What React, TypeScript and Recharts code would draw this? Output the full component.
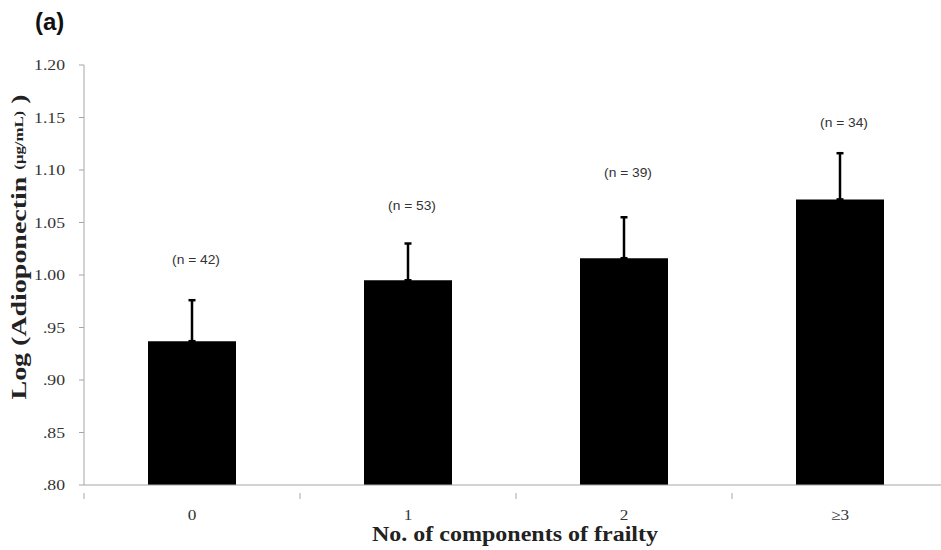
import React from "react";
import { ComposedChart, Bar, Line, XAxis, YAxis, ErrorBar, LabelList } from "recharts";

const categories = ["0", "1", "2", "≥3"];
const meanValues = [0.937, 0.995, 1.016, 1.072];
const upperValues = [0.976, 1.03, 1.055, 1.116];
const nLabels = ["(n = 42)", "(n = 53)", "(n = 39)", "(n = 34)"];
const nLabelLevels = [1.014, 1.066, 1.097, 1.145];
const yTicks = [0.8, 0.85, 0.9, 0.95, 1.0, 1.05, 1.1, 1.15, 1.2];

const data = categories.map((c, i) => ({
  cat: c,
  mean: meanValues[i],
  err: [0, +(upperValues[i] - meanValues[i]).toFixed(3)],
  labelPos: nLabelLevels[i],
  nText: nLabels[i],
}));

const SERIF = "'Liberation Serif', 'Times New Roman', serif";
const SANS = "'Liberation Sans', Arial, sans-serif";
const AXIS = "#a6a6a6";

const fmtY = (v: number) => {
  const s = v.toFixed(2);
  return v < 1 ? s.slice(1) : s;
};

const XTick = (props: any) => {
  const { x, y, payload, width, visibleTicksCount, index } = props;
  const band = width && visibleTicksCount ? width / visibleTicksCount : (payload?.offset || 0) * 2;
  const left = x - band / 2;
  const right = x + band / 2;
  return (
    <g>
      <line x1={left} y1={y} x2={left} y2={y + 6} stroke={AXIS} strokeWidth={1} />
      {index === visibleTicksCount - 1 && (
        <line x1={right} y1={y} x2={right} y2={y + 6} stroke={AXIS} strokeWidth={1} />
      )}
      <text
        transform={`translate(${x},${y + 27}) scale(1.15,1)`}
        textAnchor="middle"
        fontFamily={SERIF}
        fontSize={15}
        fill="#333"
      >
        {payload.value}
      </text>
    </g>
  );
};

const YTick = (props: any) => {
  const { x, y, payload } = props;
  return (
    <text
      transform={`translate(${x - 2},${y + 5}) scale(1.18,1)`}
      textAnchor="end"
      fontFamily={SERIF}
      fontSize={15}
      fill="#333"
    >
      {fmtY(payload.value)}
    </text>
  );
};

const YLabel = (props: any) => {
  const vb = props.viewBox || {};
  const cx = 19;
  const cy = vb.y + vb.height / 2 - 28;
  return (
    <text
      x={cx}
      y={cy}
      transform={`rotate(-90, ${cx}, ${cy})`}
      textAnchor="middle"
      dominantBaseline="central"
      fontFamily={SERIF}
      fontWeight="bold"
      fontSize={20}
      fill="#222"
      textLength={305}
      lengthAdjust="spacingAndGlyphs"
    >
      Log (Adioponectin <tspan fontSize={12}>(μg/mL)</tspan> )
    </text>
  );
};

const XLabel = (props: any) => {
  const vb = props.viewBox || {};
  const cx = vb.x + vb.width / 2 - 1;
  return (
    <text
      x={cx}
      y={541}
      textAnchor="middle"
      fontFamily={SERIF}
      fontWeight="bold"
      fontSize={22}
      fill="#222"
      textLength={286}
      lengthAdjust="spacingAndGlyphs"
    >
      No. of components of frailty
    </text>
  );
};

const NLabel = (props: any) => {
  const { x, y, value } = props;
  return (
    <text
      transform={`translate(${x + 4},${y + 4}) scale(1.15,1)`}
      textAnchor="middle"
      fontFamily={SANS}
      fontSize={12}
      fill="#333"
    >
      {value}
    </text>
  );
};

export default function App() {
  return (
    <div style={{ position: "absolute", left: 0, top: 0, width: 941, height: 550, overflow: "hidden", background: "#fff" }}>
      <div
        style={{
          position: "absolute",
          left: 35,
          top: 8,
          fontFamily: SANS,
          fontWeight: "bold",
          fontSize: 24,
          lineHeight: "28px",
          color: "#111",
        }}
      >
        (a)
      </div>
      <ComposedChart
        width={950}
        height={550}
        data={data}
        margin={{ top: 65, right: 2, bottom: 35, left: 0 }}
        barCategoryGap={0}
      >
        <XAxis
          dataKey="cat"
          type="category"
          height={30}
          axisLine={{ stroke: AXIS, strokeWidth: 1 }}
          tickLine={false}
          tick={<XTick />}
          interval={0}
          label={<XLabel />}
        />
        <YAxis
          width={84}
          domain={[0.8, 1.2]}
          ticks={yTicks}
          allowDataOverflow
          axisLine={{ stroke: AXIS, strokeWidth: 1 }}
          tickLine={{ stroke: AXIS, strokeWidth: 1 }}
          tickSize={5}
          tickMargin={12}
          tick={<YTick />}
          label={<YLabel />}
        />
        <Bar dataKey="mean" fill="#000" barSize={88} isAnimationActive={false}>
          <ErrorBar dataKey="err" direction="y" width={3.5} stroke="#000" strokeWidth={2.5} />
        </Bar>
        <Line
          dataKey="labelPos"
          stroke="none"
          dot={false}
          activeDot={false}
          isAnimationActive={false}
        >
          <LabelList dataKey="nText" content={<NLabel />} />
        </Line>
      </ComposedChart>
    </div>
  );
}
